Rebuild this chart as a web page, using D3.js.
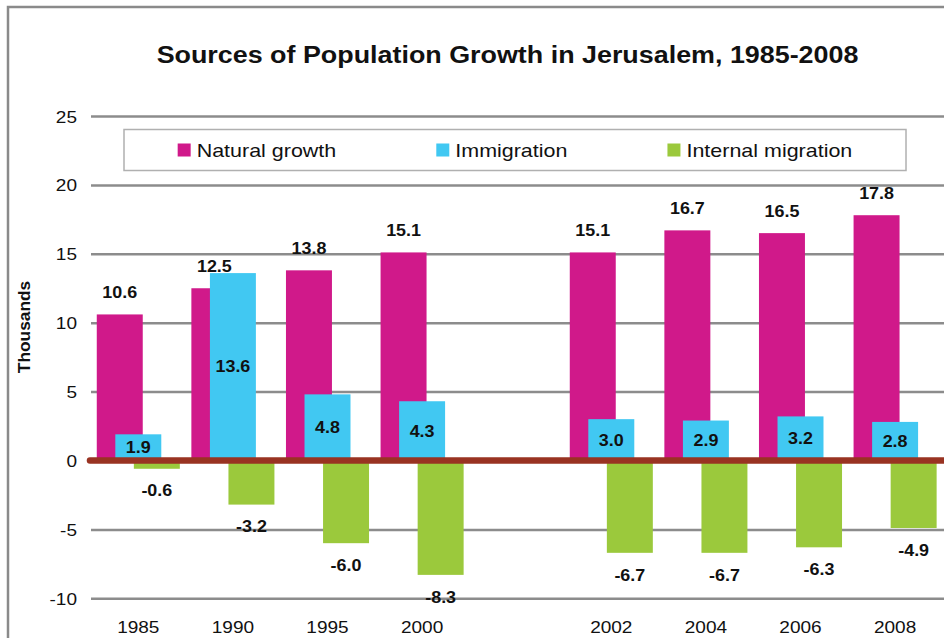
<!DOCTYPE html>
<html>
<head>
<meta charset="utf-8">
<script src="https://cdn.jsdelivr.net/npm/d3@7"></script>
<style>
  body { margin: 0; background: #fff; }
  text { font-family: 'Liberation Sans', Arial, sans-serif; fill: #111; }
</style>
</head>
<body>
<div id="chart"></div>
<script>
// Data
const categories = ['1985', '1990', '1995', '2000', '', '2002', '2004', '2006', '2008'];
const naturalGrowth = [10.6, 12.5, 13.8, 15.1, null, 15.1, 16.7, 16.5, 17.8];
const immigration = [1.9, 13.6, 4.8, 4.3, null, 3.0, 2.9, 3.2, 2.8];
const internalMigration = [-0.6, -3.2, -6.0, -8.3, null, -6.7, -6.7, -6.3, -4.9];
const seriesNames = ['Natural growth', 'Immigration', 'Internal migration'];
const yTicks = [-10, -5, 0, 5, 10, 15, 20, 25];

const colors = ['#d0198a', '#41c8f2', '#9bc93c'];
const series = [naturalGrowth, immigration, internalMigration];

// Dimensions
const width = 944;
const height = 638;
const SX = 1.12; // the source text is a bit wide

// plain hyphen for negatives, like the source
const fmt1 = (v) => d3.format('.1f')(v).replace('\u2212', '-');
const fmt0 = (v) => String(v);

const svg = d3
  .select('#chart')
  .append('svg')
  .attr('width', width)
  .attr('height', height);

// frame (right and bottom edges are cut off in the source)
svg
  .append('rect')
  .attr('x', 8)
  .attr('y', 7)
  .attr('width', width + 20)
  .attr('height', height + 20)
  .attr('fill', '#fff')
  .attr('stroke', '#8a8a8a')
  .attr('stroke-width', 2.5);

// Scales
const xScale = d3
  .scaleBand() //
  .domain(categories.map((d, i) => i))
  .range([91, 942.4]);

const yScale = d3
  .scaleLinear() //
  .domain([-10, 25])
  .range([598.3, 116]);

const bw = xScale.bandwidth();
const barW = bw * 0.486;
const step = bw * 0.196;
const barX = (i, s) => xScale(i) + bw / 2 + (s - 1) * step - barW / 2;

// Title
svg
  .append('text')
  .attr('transform', `translate(507.5, 63) scale(${SX}, 1)`)
  .attr('text-anchor', 'middle')
  .style('font-size', '24px')
  .style('font-weight', 'bold')
  .text('Sources of Population Growth in Jerusalem, 1985-2008');

// Y axis title
svg
  .append('text')
  .attr('transform', `translate(30, 327) rotate(-90) scale(1.05, 1)`)
  .attr('text-anchor', 'middle')
  .style('font-size', '16.5px')
  .style('font-weight', 'bold')
  .text('Thousands');

// Gridlines + y tick labels
const yAxis = svg
  .append('g')
  .attr('transform', 'translate(91, 0)')
  .call(
    d3
      .axisLeft(yScale) //
      .tickValues(yTicks)
      .tickFormat(fmt0)
      .tickSize(-(width - 91))
      .tickPadding(0)
  );
yAxis.select('.domain').remove();
yAxis.selectAll('.tick line').attr('stroke', '#8c8c8c').attr('stroke-width', 2.5);
yAxis
  .selectAll('.tick text')
  .attr('x', null)
  .attr('dy', null)
  .attr('transform', `translate(-14, 6) scale(${SX}, 1)`)
  .attr('fill', '#111')
  .style('font-size', '17px')
  .style('font-family', "'Liberation Sans', Arial, sans-serif");

// x labels
const xAxis = svg
  .append('g')
  .attr('transform', 'translate(0, 598.3)')
  .call(d3.axisBottom(xScale).tickFormat((i) => categories[i]).tickSize(0));
xAxis.select('.domain').remove();
xAxis
  .selectAll('.tick text')
  .attr('y', null)
  .attr('dy', null)
  .attr('transform', `translate(0, 35) scale(${SX}, 1)`)
  .attr('fill', '#111')
  .style('font-size', '17px')
  .style('font-family', "'Liberation Sans', Arial, sans-serif");

// Bars
const bars = svg.append('g');
series.forEach((vals, s) => {
  bars
    .append('g')
    .selectAll('rect')
    .data(vals.map((v, i) => ({ v, i })).filter((d) => d.v !== null))
    .join('rect')
    .attr('x', (d) => barX(d.i, s))
    .attr('width', barW)
    .attr('y', (d) => yScale(Math.max(0, d.v)))
    .attr('height', (d) => Math.abs(yScale(d.v) - yScale(0)))
    .attr('fill', colors[s]);
});

// zero line
svg
  .append('line')
  .attr('x1', 90)
  .attr('x2', width + 10)
  .attr('y1', yScale(0))
  .attr('y2', yScale(0))
  .attr('stroke', '#993322')
  .attr('stroke-width', 6.5)
  .attr('stroke-linecap', 'round');

// Data labels
const labels = svg.append('g').style('font-size', '16px').style('font-weight', 'bold');
const labelY = [
  (v) => yScale(v) - 16.3, // above the bar
  (v) => (yScale(v) + yScale(0)) / 2 + 5.7, // centred in the bar
  (v) => yScale(v) + 27.7, // below the bar
];
series.forEach((vals, s) => {
  labels
    .append('g')
    .selectAll('text')
    .data(vals.map((v, i) => ({ v, i })).filter((d) => d.v !== null))
    .join('text')
    .attr('text-anchor', 'middle')
    .attr('transform', (d) => `translate(${barX(d.i, s) + barW / 2}, ${labelY[s](d.v)}) scale(${SX}, 1)`)
    .text((d) => fmt1(d.v));
});

// Legend
const legend = svg.append('g');
legend
  .append('rect')
  .attr('x', 124)
  .attr('y', 129.5)
  .attr('width', 782)
  .attr('height', 41)
  .attr('fill', '#fff')
  .attr('stroke', '#b0b0b0')
  .attr('stroke-width', 1.5);

const items = legend
  .selectAll('g.item')
  .data(seriesNames)
  .join('g')
  .classed('item', true);
items
  .append('rect')
  .attr('width', 13)
  .attr('height', 13)
  .attr('y', 143.5)
  .attr('fill', (d, i) => colors[i]);
items
  .append('text')
  .style('font-size', '19px')
  .text((d) => d);

const widths = [];
items.select('text').each(function () {
  widths.push(this.getComputedTextLength() * 1.13);
});
const gap = 100;
const total = d3.sum(widths) + widths.length * 19 + gap * (widths.length - 1);
let cx = 124 + (782 - total) / 2;
items.each(function (d, i) {
  const g = d3.select(this);
  g.select('rect').attr('x', cx);
  g.select('text').attr('transform', `translate(${cx + 19}, 157) scale(1.13, 1)`);
  cx += 19 + widths[i] + gap;
});
</script>
</body>
</html>
